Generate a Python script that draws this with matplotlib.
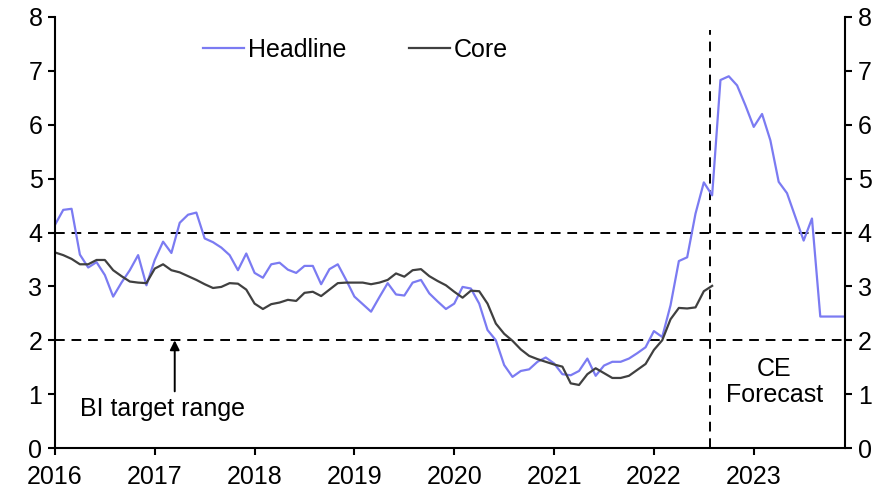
import matplotlib
matplotlib.use("Agg")
import matplotlib.pyplot as plt

# monthly, Jan 2016 - Dec 2023 (y/y %)
years = [2016, 2017, 2018, 2019, 2020, 2021, 2022, 2023]

headline = [
    4.14, 4.42, 4.44, 3.59, 3.35, 3.45, 3.21, 2.81, 3.07, 3.30, 3.58, 3.02,
    3.49, 3.83, 3.62, 4.18, 4.33, 4.37, 3.89, 3.82, 3.72, 3.58, 3.30, 3.61,
    3.25, 3.16, 3.41, 3.44, 3.31, 3.25, 3.38, 3.38, 3.04, 3.32, 3.41, 3.12,
    2.81, 2.67, 2.53, 2.80, 3.06, 2.85, 2.83, 3.07, 3.12, 2.87, 2.72, 2.58,
    2.68, 2.99, 2.96, 2.68, 2.19, 2.00, 1.54, 1.32, 1.43, 1.46, 1.60, 1.68,
    1.57, 1.37, 1.35, 1.43, 1.66, 1.34, 1.53, 1.60, 1.60, 1.66, 1.76, 1.87,
    2.17, 2.06, 2.65, 3.47, 3.54, 4.35, 4.93, 4.69, 6.83, 6.90, 6.73, 6.36,
    5.96, 6.20, 5.71, 4.94, 4.73, 4.29, 3.85, 4.26, 2.44, 2.44, 2.44, 2.44,
]

core = [
    3.63, 3.58, 3.51, 3.41, 3.41, 3.49, 3.49, 3.30, 3.19, 3.09, 3.07, 3.06,
    3.33, 3.41, 3.30, 3.26, 3.19, 3.12, 3.04, 2.97, 2.99, 3.06, 3.05, 2.94,
    2.68, 2.58, 2.67, 2.70, 2.75, 2.73, 2.88, 2.90, 2.82, 2.94, 3.06, 3.07,
    3.07, 3.07, 3.04, 3.07, 3.12, 3.24, 3.18, 3.30, 3.32, 3.19, 3.10, 3.02,
    2.90, 2.79, 2.92, 2.91, 2.68, 2.31, 2.12, 1.99, 1.83, 1.71, 1.65, 1.60,
    1.55, 1.51, 1.20, 1.17, 1.37, 1.48, 1.39, 1.30, 1.30, 1.34, 1.45, 1.56,
    1.82, 2.00, 2.39, 2.60, 2.59, 2.61, 2.91, 3.01,
]

target_range = [2, 4]
forecast_start = 78.8  # month index where CE forecast begins


def main():
    plt.rcParams['font.family'] = ['Liberation Sans', 'DejaVu Sans']
    plt.rcParams['font.size'] = 18

    fig = plt.figure(figsize=(8.86, 5.0), dpi=100)
    ax = fig.add_axes([0.062, 0.104, 0.892, 0.862])

    ax.plot(range(len(headline)), headline, color='#7b7bf2', lw=1.6,
            label='Headline')
    ax.plot(range(len(core)), core, color='#404040', lw=1.6, label='Core')

    for lvl in target_range:
        ax.axhline(lvl, color='black', lw=1.4, ls=(0, (5, 3.5)), zorder=1)
    ax.plot([forecast_start, forecast_start], [0, 7.75], color='black',
            lw=1.4, ls=(0, (5, 3.5)), zorder=1)

    ax.set_xlim(0, 95)
    ax.set_ylim(0, 8)
    ax.set_xticks([12 * i for i in range(len(years))])
    ax.set_xticklabels([str(y) for y in years])
    ax.set_yticks(range(0, 9))

    ax.spines['top'].set_visible(False)
    for s in ['left', 'right', 'bottom']:
        ax.spines[s].set_linewidth(1.5)
    ax.tick_params(axis='both', direction='out', length=5, width=1.5)
    ax.tick_params(axis='x', pad=7)
    ax.tick_params(axis='y', pad=4, right=True, labelright=True)

    ax.annotate('', xy=(14.4, 2.05), xytext=(14.4, 1.0),
                arrowprops=dict(arrowstyle='-|>', color='black', lw=1.4,
                                mutation_scale=14))
    ax.text(12.9, 0.72, 'BI target range', ha='center', va='center')
    ax.text(86.5, 1.22, 'CE\nForecast', ha='center', va='center',
            linespacing=1.1)

    ax.legend(ncol=2, frameon=False, loc='center left',
              bbox_to_anchor=(0.187, 0.923), borderaxespad=0, borderpad=0,
              handlelength=1.65, handletextpad=0.15, columnspacing=2.5)

    fig.savefig('out.png', dpi=100)


if __name__ == "__main__":
    main()
